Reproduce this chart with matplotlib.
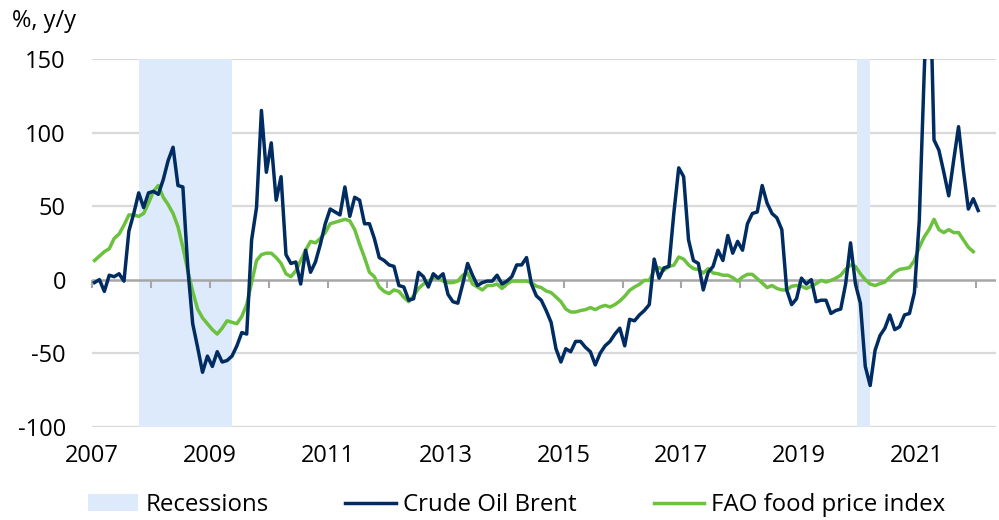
import matplotlib
matplotlib.use('Agg')
import matplotlib.pyplot as plt
import numpy as np
from matplotlib.patches import Patch
from matplotlib.lines import Line2D

# ---------------- data (monthly, y/y %) ----------------
start_year = 2007
brent = [
    -2, 0, -8, 3, 2, 4, -1, 33, 45, 59,
    49, 59, 60, 58, 68, 81, 90, 64, 63, 8,
    -30, -46, -63, -52, -59, -49, -56, -55, -52, -45,
    -36, -37, 27, 49, 115, 73, 93, 54, 70, 17,
    11, 12, -3, 20, 5, 12, 24, 38, 48, 46,
    44, 63, 43, 56, 54, 38, 38, 28, 15, 13,
    10, 9, -4, -5, -14, -13, 5, 2, -5, 4,
    1, 4, -10, -15, -16, -3, 11, 3, -4, -2,
    -1, -1, 3, -3, -1, 2, 10, 10, 15, -3,
    -11, -14, -21, -29, -47, -56, -47, -49, -42, -42,
    -46, -49, -58, -50, -45, -42, -37, -33, -45, -27,
    -28, -24, -21, -17, 14, 1, 8, 9, 45, 76,
    70, 27, 13, 11, -7, 5, 9, 20, 13, 30,
    18, 26, 20, 38, 45, 46, 64, 52, 45, 42,
    34, -7, -17, -13, 1, -3, 0, -15, -14, -14,
    -23, -21, -20, -3, 25, -3, -16, -59, -72, -48,
    -38, -33, -24, -34, -32, -24, -23, -9, 40, 140,
    230, 95, 88, 73, 57, 81, 104, 74, 48, 55, 47,
]
fao = [
    13, 16, 19, 21, 28, 31, 37, 44, 44, 43,
    45, 52, 60, 64, 56, 51, 45, 36, 22, 6,
    -8, -20, -26, -30, -34, -37, -33, -28, -29, -30,
    -25, -17, -2, 13, 17, 18, 18, 15, 11, 4,
    2, 6, 13, 20, 26, 25, 28, 32, 38, 39,
    40, 41, 40, 34, 24, 15, 5, 2, -5, -8,
    -9.5, -7, -8, -12, -15, -11, -6, -3, -1, 1,
    1, -1, -2, -2, -1, 3, 4.5, -3, -5, -7,
    -4, -4, -3, -6, -3, -1, -1, -1, -1, -2,
    -4.5, -5.4, -7.7, -8.8, -11.8, -15, -20, -22, -22, -21,
    -20.4, -19, -20.4, -18.6, -17.5, -18.6, -17, -14.5, -11.3, -7.3,
    -5, -3.2, -0.5, -0.5, 6.3, 8.2, 6.3, 9, 9.8, 15.4,
    14, 10, 7.5, 6.8, 4.5, 7.5, 4.5, 4, 3, 3,
    1.4, -1, 1.8, 3.6, 3.6, 0.7, -2.3, -5.4, -4, -6,
    -7, -7, -4.5, -4, -4.5, -6, -4.5, -2.7, -0.5, -1.6,
    -0.5, 1, 3, 7, 10, 9, 4, 0, -3, -4,
    -2.7, -1.6, 1.8, 5, 7, 7.5, 8.2, 13, 22, 29,
    34, 41, 34, 32, 34, 32, 32, 27, 22, 19,
]
recessions = [(2007.8, 2009.37), (2019.98, 2020.2)]
year_ticks = list(range(2007, 2023))
label_years = list(range(2007, 2022, 2))
y_ticks = [-100, -50, 0, 50, 100, 150]
series_labels = ['Recessions', 'Crude Oil Brent', 'FAO food price index']
y_unit = '%, y/y'

# ---------------- style ----------------
NAVY = '#002C61'
GREEN = '#6CC13E'
SHADE = '#DDEAFB'
GRID = '#D9D9D9'
AXIS = '#A6A6A6'
FS = 17

plt.rcParams['font.family'] = ['Open Sans', 'DejaVu Sans']

fig = plt.figure(figsize=(9.99, 5.2), dpi=100)
ax = fig.add_axes([0.0924, 0.1794, 0.997 - 0.0924, 0.8865 - 0.1794])

x_brent = start_year + (np.arange(len(brent)) + 0.45) / 12.0
x_fao = start_year + (np.arange(len(fao)) + 0.45) / 12.0

for a, b in recessions:
    ax.axvspan(a, b, color=SHADE, lw=0, zorder=1)

for v in y_ticks:
    if v != 0:
        ax.axhline(v, color=GRID, lw=1.6, zorder=0.5)
ax.axhline(0, color=AXIS, lw=1.8, zorder=2)

ax.plot(x_fao, fao, color=GREEN, lw=2.5, zorder=3, solid_joinstyle='round')
ax.plot(x_brent, brent, color=NAVY, lw=2.5, zorder=4, solid_joinstyle='round')

ax.set_xlim(2007, 2022.34)
ax.set_ylim(-100, 150)
ax.set_yticks(y_ticks)
ax.set_yticklabels([str(v) for v in y_ticks])
ax.tick_params(axis='y', length=0, pad=19, labelsize=FS, labelcolor='#000000')

for s in ['top', 'right', 'left']:
    ax.spines[s].set_visible(False)
ax.spines['bottom'].set_position(('data', 0))
ax.spines['bottom'].set_visible(False)
ax.set_xticks(year_ticks)
ax.tick_params(axis='x', direction='out', length=5.5, width=1.5, color=AXIS,
               labelbottom=False)

sec = ax.secondary_xaxis('bottom')
sec.set_xticks(label_years)
sec.set_xticklabels([str(y) for y in label_years])
sec.tick_params(length=0, pad=12.5, labelsize=FS)
for s in sec.spines.values():
    s.set_visible(False)

fig.text(12 / 999, 1 - 21 / 520, y_unit, fontsize=FS, ha='left', va='center')

handles = [Patch(facecolor=SHADE, edgecolor='none'),
           Line2D([], [], color=NAVY, lw=2.5),
           Line2D([], [], color=GREEN, lw=2.5)]
fig.legend(handles, series_labels, loc='center', bbox_to_anchor=(0.517, 0.029),
           ncol=3, frameon=False, fontsize=17.3, handlelength=2.1, handletextpad=0.3,
           columnspacing=3.2, borderpad=0, borderaxespad=0)

fig.savefig('out.png', dpi=100)
